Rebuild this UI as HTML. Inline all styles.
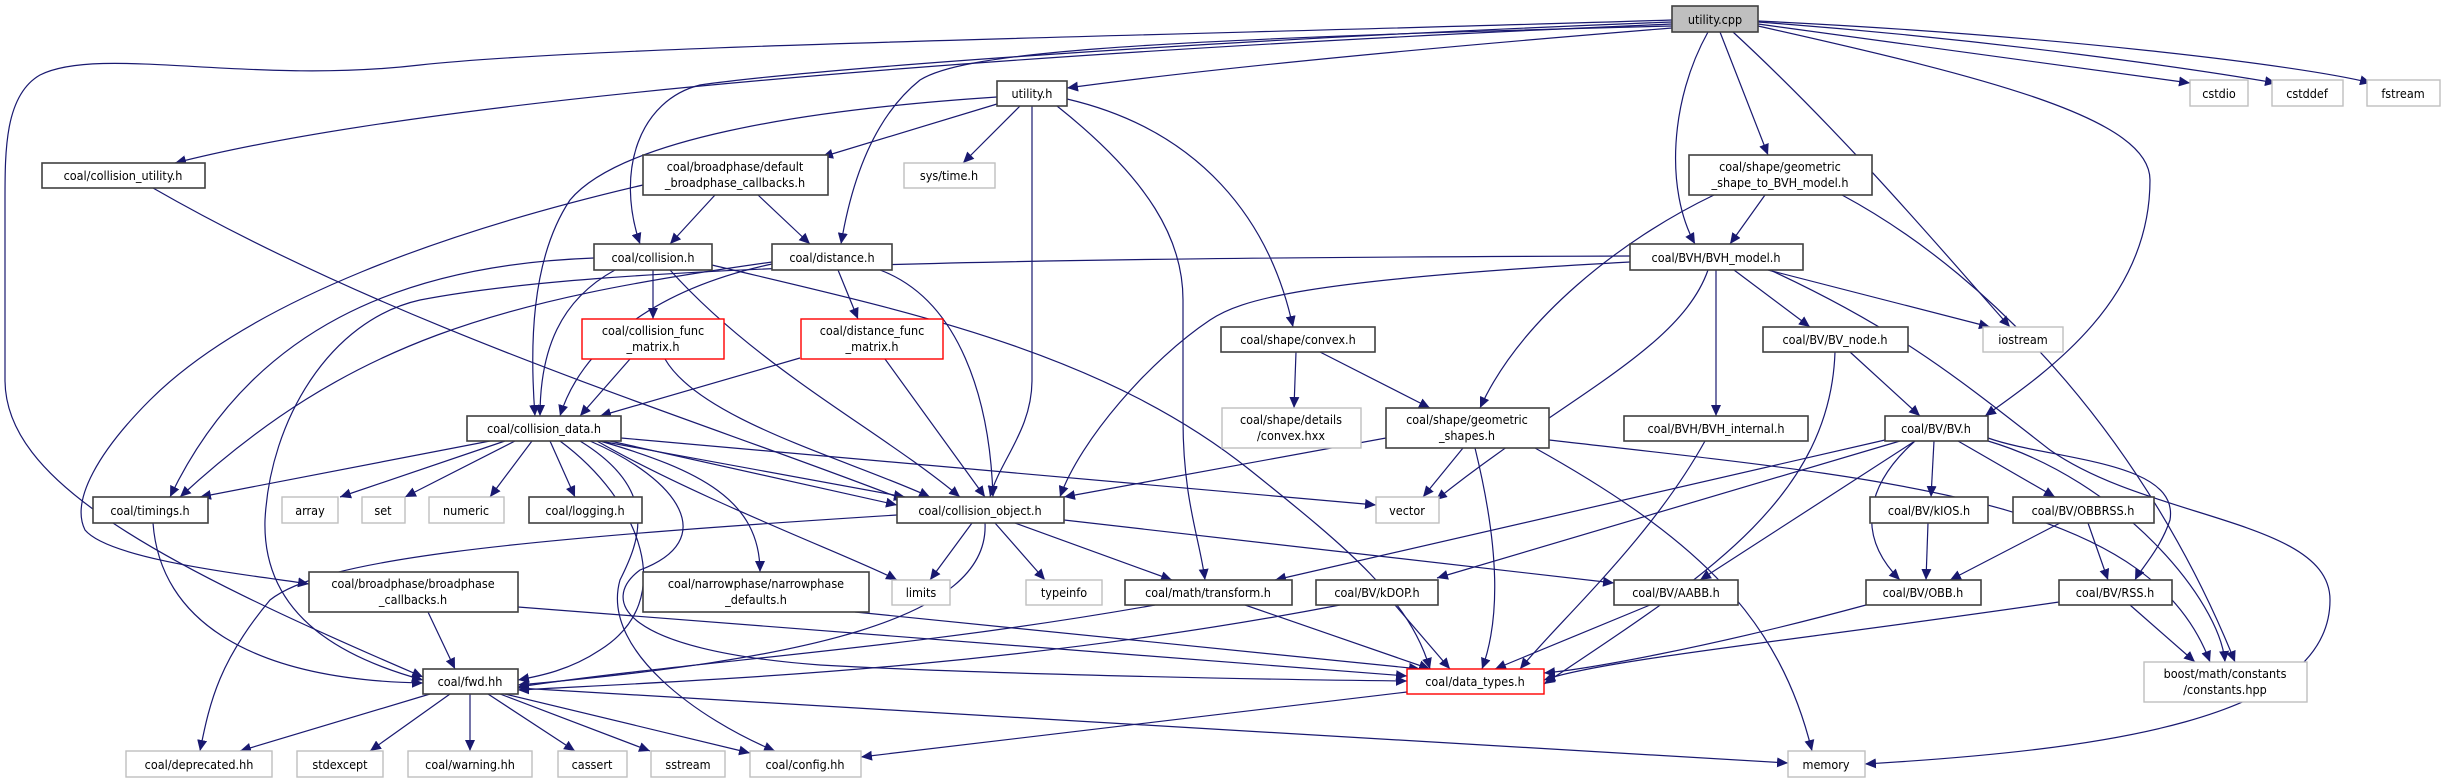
<!DOCTYPE html>
<html><head><meta charset="utf-8"><style>
html,body{margin:0;padding:0;background:#fff;}
svg{display:block;}
text{font-family:"DejaVu Sans Condensed","DejaVu Sans","Liberation Sans",sans-serif;font-size:12.5px;fill:#000;text-anchor:middle;}
.e{fill:none;stroke:#191970;stroke-width:1.2;marker-end:url(#a);}
.n{fill:#fff;stroke:#404040;stroke-width:1.6;}
.g{fill:#fff;stroke:#bfbfbf;stroke-width:1.4;}
.r{fill:#fff;stroke:#ff0000;stroke-width:1.4;}
</style></head><body>
<svg width="2446" height="783" viewBox="0 0 2446 783" xmlns="http://www.w3.org/2000/svg">
<defs><marker id="a" markerUnits="userSpaceOnUse" markerWidth="12" markerHeight="10" refX="11" refY="5" orient="auto"><path d="M0,0 L11,5 L0,10 z" fill="#191970"/></marker></defs>
<g>
<!-- utility.cpp -->
<path class="e" d="M1672,20 C1200,35 600,45 420,65 C250,85 100,45 40,75 C5,95 5,150 5,200 L5,380 C5,480 150,560 423,677"/>
<path class="e" d="M1672,24 C1300,40 500,80 175,163"/>
<path class="e" d="M1672,28 C1400,50 1200,70 1067,88"/>
<path class="e" d="M1672,22 C1200,40 800,70 700,85 C640,100 615,170 640,244"/>
<path class="e" d="M1672,26 C1100,40 960,55 920,80 C870,120 850,190 841,244"/>
<path class="e" d="M1708,32 C1670,100 1665,190 1695,244"/>
<path class="e" d="M1720,32 L1768,155"/>
<path class="e" d="M1733,32 C1850,140 1950,260 2010,327"/>
<path class="e" d="M1758,26 C2000,80 2150,120 2150,180 C2150,300 2050,370 1985,416"/>
<path class="e" d="M1758,24 C1950,50 2100,70 2190,83"/>
<path class="e" d="M1758,22 C2000,40 2200,70 2276,83"/>
<path class="e" d="M1758,21 C2050,35 2300,65 2371,83"/>
<!-- utility.h -->
<path class="e" d="M997,104 L822,157"/>
<path class="e" d="M1020,106 L963,163"/>
<path class="e" d="M997,97 C800,110 620,140 570,200 C530,260 530,350 535,416"/>
<path class="e" d="M1032,106 L1032,380 C1032,430 1000,460 990,497"/>
<path class="e" d="M1057,106 C1150,180 1183,240 1183,300 L1183,420 C1183,500 1200,540 1205,580"/>
<path class="e" d="M1067,99 C1200,130 1270,220 1293,327"/>
<!-- default broadphase callbacks -->
<path class="e" d="M715,195 L670,244"/>
<path class="e" d="M758,195 L810,244"/>
<path class="e" d="M643,185 C450,230 250,300 150,400 C100,450 70,500 85,530 C110,560 250,575 309,584"/>
<path class="e" d="M153,188 C400,330 700,420 905,500"/>
<!-- collision.h -->
<path class="e" d="M653,270 L653,319"/>
<path class="e" d="M615,270 C560,300 540,350 540,416"/>
<path class="e" d="M670,270 C760,370 880,430 960,497"/>
<path class="e" d="M594,258 C400,265 250,330 170,497"/>
<path class="e" d="M712,265 C900,310 1100,350 1250,470 C1350,550 1410,600 1430,669"/>
<!-- distance.h -->
<path class="e" d="M838,270 L858,319"/>
<path class="e" d="M772,264 C650,290 580,350 560,416"/>
<path class="e" d="M880,270 C960,300 990,400 993,497"/>
<path class="e" d="M772,262 C500,300 350,340 180,497"/>
<!-- func matrices -->
<path class="e" d="M630,359 L580,416"/>
<path class="e" d="M665,359 C700,420 850,460 930,497"/>
<path class="e" d="M800,358 L600,416"/>
<path class="e" d="M885,359 L985,497"/>
<!-- convex -->
<path class="e" d="M1296,352 L1294,408"/>
<path class="e" d="M1320,352 L1430,408"/>
<!-- gsbvh -->
<path class="e" d="M1765,195 L1730,244"/>
<path class="e" d="M1714,195 C1620,240 1520,320 1480,408"/>
<path class="e" d="M1842,195 C2000,280 2150,450 2235,662"/>
<!-- BVH_model -->
<path class="e" d="M1630,262 C1300,280 1240,300 1210,320 C1150,360 1080,440 1060,497"/>
<path class="e" d="M1768,270 L1990,327"/>
<path class="e" d="M1734,270 L1810,327"/>
<path class="e" d="M1716,270 L1716,416"/>
<path class="e" d="M1708,270 C1680,350 1560,400 1436,500"/>
<path class="e" d="M1770,270 C1900,330 1960,380 2050,450 C2150,520 2330,520 2330,600 C2330,720 2100,750 1865,764"/>
<path class="e" d="M1630,256 C1000,258 600,265 420,300 C330,320 270,420 265,520 C262,620 350,660 423,680"/>
<!-- bv node / internal -->
<path class="e" d="M1850,352 L1920,416"/>
<path class="e" d="M1835,352 C1830,500 1700,580 1544,684"/>
<path class="e" d="M1705,441 C1650,540 1560,620 1520,669"/>
<!-- BV.h -->
<path class="e" d="M1885,440 L1275,580"/>
<path class="e" d="M1900,441 L1437,578"/>
<path class="e" d="M1915,441 L1700,580"/>
<path class="e" d="M1915,441 C1860,490 1860,540 1900,580"/>
<path class="e" d="M1934,441 L1931,497"/>
<path class="e" d="M1958,441 L2055,497"/>
<path class="e" d="M1988,438 C2050,460 2180,460 2170,520 C2160,550 2140,570 2135,580"/>
<path class="e" d="M1988,441 C2120,480 2220,600 2225,662"/>
<!-- collision_data -->
<path class="e" d="M490,441 L200,497"/>
<path class="e" d="M505,441 L340,497"/>
<path class="e" d="M515,441 L405,497"/>
<path class="e" d="M532,441 L490,497"/>
<path class="e" d="M550,441 L575,497"/>
<path class="e" d="M600,441 L905,497"/>
<path class="e" d="M610,441 L897,505"/>
<path class="e" d="M621,438 L1376,505"/>
<path class="e" d="M597,441 C700,500 860,560 897,580"/>
<path class="e" d="M600,441 C700,470 760,500 760,572"/>
<path class="e" d="M590,441 C680,480 720,540 640,570 C600,600 620,650 820,665 C1000,675 1300,680 1407,681"/>
<path class="e" d="M580,441 C660,490 640,540 620,580 C600,650 700,720 775,751"/>
<path class="e" d="M560,441 C640,500 680,600 600,650 C570,670 540,676 518,680"/>
<!-- timings, collision_object -->
<path class="e" d="M153,523 C160,620 250,680 423,683"/>
<path class="e" d="M972,523 L930,580"/>
<path class="e" d="M995,523 L1045,580"/>
<path class="e" d="M1015,523 L1172,580"/>
<path class="e" d="M1064,520 L1614,583"/>
<path class="e" d="M985,523 C990,620 800,660 518,685"/>
<path class="e" d="M897,515 C500,540 320,560 270,600 C220,660 210,700 200,751"/>
<!-- row 5 -->
<path class="e" d="M428,612 L455,669"/>
<path class="e" d="M518,607 L1407,676"/>
<path class="e" d="M855,612 L1420,669"/>
<path class="e" d="M1155,605 C900,650 700,660 518,687"/>
<path class="e" d="M1245,605 L1430,669"/>
<path class="e" d="M1340,605 C1000,670 700,680 518,690"/>
<path class="e" d="M1395,605 L1450,669"/>
<path class="e" d="M1650,605 L1495,669"/>
<path class="e" d="M1866,605 C1700,650 1580,670 1544,673"/>
<path class="e" d="M2059,602 C1800,640 1600,660 1544,680"/>
<path class="e" d="M2130,605 L2195,662"/>
<path class="e" d="M1928,523 L1926,580"/>
<path class="e" d="M2060,523 L1950,580"/>
<path class="e" d="M2088,523 L2108,580"/>
<!-- geometric shapes -->
<path class="e" d="M1386,438 L1064,497"/>
<path class="e" d="M1463,448 L1423,497"/>
<path class="e" d="M1475,448 C1500,550 1500,620 1482,669"/>
<path class="e" d="M1535,448 C1700,540 1780,620 1812,751"/>
<path class="e" d="M1549,440 C1900,480 2150,500 2210,662"/>
<!-- data types / fwd -->
<path class="e" d="M1407,692 L861,757"/>
<path class="e" d="M430,694 L240,751"/>
<path class="e" d="M450,694 L370,751"/>
<path class="e" d="M470,694 L470,751"/>
<path class="e" d="M488,694 L575,751"/>
<path class="e" d="M500,694 L650,751"/>
<path class="e" d="M505,694 L750,753"/>
<path class="e" d="M518,688 L1788,763"/>
</g>
<g>
<rect x="1672" y="6" width="86" height="26" fill="#bfbfbf" stroke="#404040" stroke-width="1.6"/><text x="1715" y="24">utility.cpp</text>
<rect class="g" x="2190" y="80" width="58" height="26"/><text x="2219" y="98">cstdio</text>
<rect class="g" x="2272" y="80" width="71" height="26"/><text x="2307" y="98">cstddef</text>
<rect class="g" x="2367" y="80" width="73" height="26"/><text x="2403" y="98">fstream</text>
<rect class="n" x="997" y="81" width="70" height="25"/><text x="1032" y="98">utility.h</text>
<rect class="n" x="42" y="163" width="163" height="25"/><text x="123" y="180">coal/collision_utility.h</text>
<rect class="n" x="643" y="155" width="185" height="40"/><text x="735" y="171">coal/broadphase/default</text><text x="735" y="187">_broadphase_callbacks.h</text>
<rect class="g" x="904" y="163" width="91" height="25"/><text x="949" y="180">sys/time.h</text>
<rect class="n" x="1689" y="155" width="183" height="40"/><text x="1780" y="171">coal/shape/geometric</text><text x="1780" y="187">_shape_to_BVH_model.h</text>
<rect class="n" x="594" y="244" width="118" height="26"/><text x="653" y="262">coal/collision.h</text>
<rect class="n" x="772" y="244" width="120" height="26"/><text x="832" y="262">coal/distance.h</text>
<rect class="n" x="1630" y="244" width="173" height="26"/><text x="1716" y="262">coal/BVH/BVH_model.h</text>
<rect class="r" x="582" y="319" width="142" height="40"/><text x="653" y="335">coal/collision_func</text><text x="653" y="351">_matrix.h</text>
<rect class="r" x="801" y="319" width="142" height="40"/><text x="872" y="335">coal/distance_func</text><text x="872" y="351">_matrix.h</text>
<rect class="n" x="1221" y="327" width="154" height="25"/><text x="1298" y="344">coal/shape/convex.h</text>
<rect class="n" x="1763" y="327" width="145" height="25"/><text x="1835" y="344">coal/BV/BV_node.h</text>
<rect class="g" x="1983" y="327" width="80" height="25"/><text x="2023" y="344">iostream</text>
<rect class="n" x="467" y="416" width="154" height="25"/><text x="544" y="433">coal/collision_data.h</text>
<rect class="g" x="1222" y="408" width="139" height="40"/><text x="1291" y="424">coal/shape/details</text><text x="1291" y="440">/convex.hxx</text>
<rect class="n" x="1386" y="408" width="163" height="40"/><text x="1467" y="424">coal/shape/geometric</text><text x="1467" y="440">_shapes.h</text>
<rect class="n" x="1624" y="416" width="184" height="25"/><text x="1716" y="433">coal/BVH/BVH_internal.h</text>
<rect class="n" x="1885" y="416" width="103" height="25"/><text x="1936" y="433">coal/BV/BV.h</text>
<rect class="n" x="93" y="497" width="115" height="26"/><text x="150" y="515">coal/timings.h</text>
<rect class="g" x="282" y="497" width="56" height="26"/><text x="310" y="515">array</text>
<rect class="g" x="362" y="497" width="43" height="26"/><text x="383" y="515">set</text>
<rect class="g" x="429" y="497" width="75" height="26"/><text x="466" y="515">numeric</text>
<rect class="n" x="529" y="497" width="113" height="26"/><text x="585" y="515">coal/logging.h</text>
<rect class="n" x="897" y="497" width="167" height="26"/><text x="980" y="515">coal/collision_object.h</text>
<rect class="g" x="1376" y="497" width="63" height="26"/><text x="1407" y="515">vector</text>
<rect class="n" x="1870" y="497" width="118" height="26"/><text x="1929" y="515">coal/BV/kIOS.h</text>
<rect class="n" x="2013" y="497" width="141" height="26"/><text x="2083" y="515">coal/BV/OBBRSS.h</text>
<rect class="n" x="309" y="572" width="209" height="40"/><text x="413" y="588">coal/broadphase/broadphase</text><text x="413" y="604">_callbacks.h</text>
<rect class="n" x="643" y="572" width="226" height="40"/><text x="756" y="588">coal/narrowphase/narrowphase</text><text x="756" y="604">_defaults.h</text>
<rect class="g" x="892" y="580" width="58" height="25"/><text x="921" y="597">limits</text>
<rect class="g" x="1026" y="580" width="76" height="25"/><text x="1064" y="597">typeinfo</text>
<rect class="n" x="1125" y="580" width="167" height="25"/><text x="1208" y="597">coal/math/transform.h</text>
<rect class="n" x="1316" y="580" width="122" height="25"/><text x="1377" y="597">coal/BV/kDOP.h</text>
<rect class="n" x="1614" y="580" width="124" height="25"/><text x="1676" y="597">coal/BV/AABB.h</text>
<rect class="n" x="1866" y="580" width="115" height="25"/><text x="1923" y="597">coal/BV/OBB.h</text>
<rect class="n" x="2059" y="580" width="113" height="25"/><text x="2115" y="597">coal/BV/RSS.h</text>
<rect class="n" x="423" y="669" width="95" height="25"/><text x="470" y="686">coal/fwd.hh</text>
<rect class="r" x="1407" y="669" width="137" height="25"/><text x="1475" y="686">coal/data_types.h</text>
<rect class="g" x="2144" y="662" width="163" height="40"/><text x="2225" y="678">boost/math/constants</text><text x="2225" y="694">/constants.hpp</text>
<rect class="g" x="126" y="751" width="146" height="26"/><text x="199" y="769">coal/deprecated.hh</text>
<rect class="g" x="297" y="751" width="86" height="26"/><text x="340" y="769">stdexcept</text>
<rect class="g" x="408" y="751" width="124" height="26"/><text x="470" y="769">coal/warning.hh</text>
<rect class="g" x="558" y="751" width="69" height="26"/><text x="592" y="769">cassert</text>
<rect class="g" x="651" y="751" width="74" height="26"/><text x="688" y="769">sstream</text>
<rect class="g" x="750" y="751" width="111" height="26"/><text x="805" y="769">coal/config.hh</text>
<rect class="g" x="1788" y="751" width="77" height="26"/><text x="1826" y="769">memory</text>
</g>
</svg>
</body></html>
